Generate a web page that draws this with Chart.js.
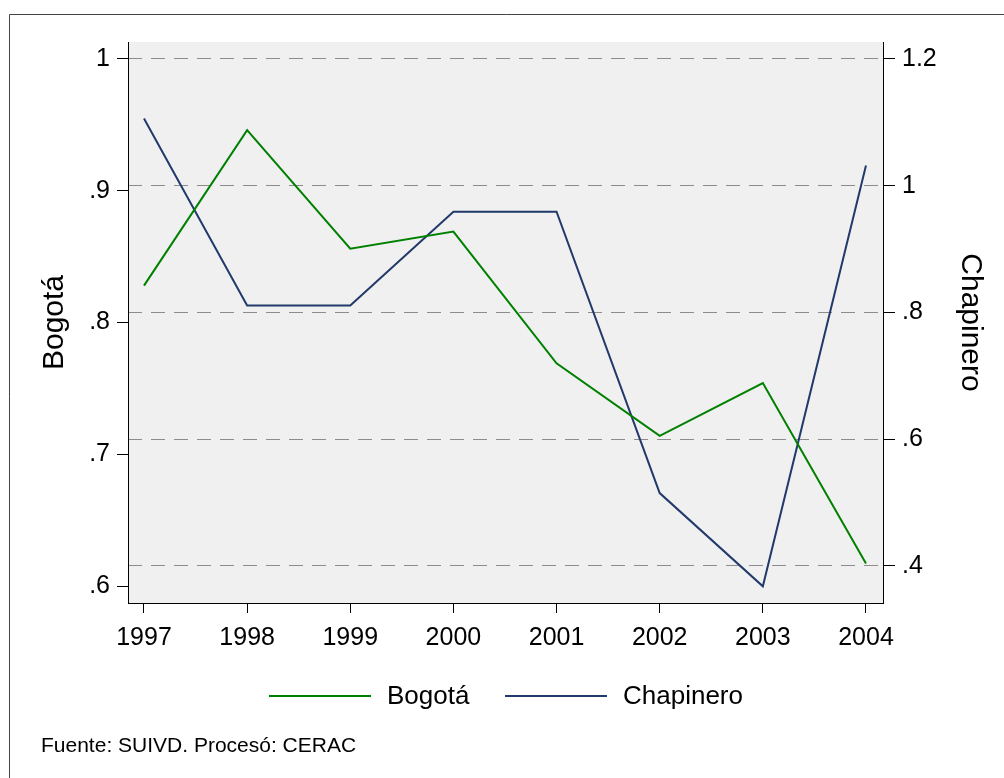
<!DOCTYPE html>
<html>
<head>
<meta charset="utf-8">
<script src="https://cdn.jsdelivr.net/npm/chart.js@4"></script>
<style>
  body { margin: 0; background: #fff; }
  canvas { display: block; }
</style>
</head>
<body>
<canvas id="chart" width="1004" height="778"></canvas>
<script>
var years = [1997, 1998, 1999, 2000, 2001, 2002, 2003, 2004];
var bogota = [0.828, 0.946, 0.856, 0.869, 0.769, 0.714, 0.754, 0.617];
var chapinero = [1.106, 0.811, 0.811, 0.959, 0.959, 0.515, 0.368, 1.032];
var leftTicks = [0.6, 0.7, 0.8, 0.9, 1];
var rightTicks = [0.4, 0.6, 0.8, 1, 1.2];
var FONT = "'Liberation Sans', Arial, sans-serif";

function fmt(v) {
    var s = String(Math.round(v * 10) / 10);
    return s.replace(/^0\./, '.');
}

function points(vals) {
    return years.map(function (yr, i) { return {x: yr, y: vals[i]}; });
}

var framePlugin = {
    id: 'frame',
    beforeDraw: function (chart) {
        var ctx = chart.ctx, a = chart.chartArea;
        ctx.save();
        ctx.fillStyle = '#f0f0f0';
        ctx.fillRect(a.left, a.top, a.right - a.left, a.bottom - a.top);
        ctx.strokeStyle = '#444';
        ctx.lineWidth = 1;
        ctx.beginPath();
        ctx.moveTo(9.5, 778);
        ctx.lineTo(9.5, 14.5);
        ctx.lineTo(1004, 14.5);
        ctx.stroke();
        ctx.restore();
    },
    afterDraw: function (chart) {
        var ctx = chart.ctx;
        var items = [{x: 269, tx: 387}, {x: 505, tx: 623}];
        ctx.save();
        chart.data.datasets.forEach(function (ds, i) {
            var it = items[i];
            ctx.strokeStyle = ds.borderColor;
            ctx.lineWidth = 2;
            ctx.beginPath();
            ctx.moveTo(it.x, 696);
            ctx.lineTo(it.x + 102, 696);
            ctx.stroke();
            ctx.fillStyle = '#000';
            ctx.font = '26px ' + FONT;
            ctx.textBaseline = 'middle';
            ctx.fillText(ds.label, it.tx, 697);
        });
        ctx.font = '21px ' + FONT;
        ctx.textBaseline = 'alphabetic';
        ctx.fillText('Fuente: SUIVD. Procesó: CERAC', 41, 752);
        ctx.restore();
    }
};

new Chart(document.getElementById('chart').getContext('2d'), {
    type: 'line',
    data: {
        datasets: [{
            label: 'Bogotá',
            data: points(bogota),
            yAxisID: 'y',
            borderColor: '#008000',
            borderWidth: 2,
            pointRadius: 0,
            tension: 0,
            fill: false
        }, {
            label: 'Chapinero',
            data: points(chapinero),
            yAxisID: 'y1',
            borderColor: '#22396b',
            borderWidth: 2,
            pointRadius: 0,
            tension: 0,
            fill: false
        }]
    },
    options: {
        responsive: false,
        animation: false,
        layout: {padding: {top: 42, left: 0, right: 0, bottom: 0}},
        plugins: {
            legend: {display: false},
            tooltip: {enabled: false}
        },
        scales: {
            x: {
                type: 'linear',
                min: 1996.845,
                max: 2004.165,
                afterBuildTicks: function (s) { s.ticks = years.map(function (v) { return {value: v}; }); },
                afterFit: function (s) { s.height = 175; },
                ticks: {
                    color: '#000',
                    font: {family: FONT, size: 25},
                    padding: 10,
                    maxRotation: 0,
                    callback: function (v) { return String(v); }
                },
                grid: {drawOnChartArea: false, tickLength: 10, tickColor: '#000'},
                border: {color: '#000', width: 1}
            },
            y: {
                position: 'left',
                min: 0.5871,
                max: 1.0129,
                afterBuildTicks: function (s) { s.ticks = leftTicks.map(function (v) { return {value: v}; }); },
                afterFit: function (s) { s.width = 128; },
                ticks: {
                    color: '#000',
                    font: {family: FONT, size: 25},
                    padding: 7,
                    callback: function (v) { return fmt(v); }
                },
                grid: {drawOnChartArea: false, tickLength: 11, tickColor: '#000'},
                border: {color: '#000', width: 1},
                title: {
                    display: true,
                    text: 'Bogotá',
                    color: '#000',
                    font: {family: FONT, size: 30},
                    padding: {top: 37, bottom: 0}
                }
            },
            y1: {
                position: 'right',
                min: 0.3416,
                max: 1.2268,
                afterBuildTicks: function (s) { s.ticks = rightTicks.map(function (v) { return {value: v}; }); },
                afterFit: function (s) { s.width = 121; },
                ticks: {
                    color: '#000',
                    font: {family: FONT, size: 25},
                    padding: 7,
                    callback: function (v) { return fmt(v); }
                },
                grid: {
                    color: '#8c8c8c',
                    lineWidth: 1,
                    tickLength: 12,
                    tickColor: '#000',
                    tickBorderDash: []
                },
                border: {color: '#000', width: 1, dash: [14, 9]},
                title: {
                    display: true,
                    text: 'Chapinero',
                    color: '#000',
                    font: {family: FONT, size: 30},
                    padding: {top: 16, bottom: 0}
                }
            }
        }
    },
    plugins: [framePlugin]
});
</script>
</body>
</html>
